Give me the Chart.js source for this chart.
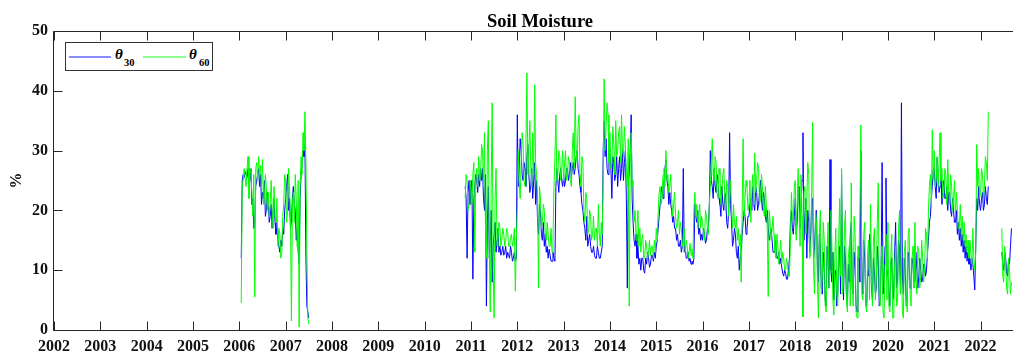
<!DOCTYPE html>
<html>
<head>
<meta charset="utf-8">
<script src="https://cdn.jsdelivr.net/npm/chart.js@4"></script>
<style>
html,body{margin:0;padding:0;background:#fff;}
#wrap{position:relative;width:1013px;height:351px;overflow:hidden;}
canvas{display:block;}
#legend{position:absolute;left:65px;top:42px;width:148px;height:29px;border:1px solid #333;background:#fff;box-sizing:border-box;font-family:"Liberation Serif","Times New Roman",serif;font-weight:bold;color:#000;}
#legend .ln{position:absolute;height:2px;top:13px;}
#legend .th{position:absolute;font-style:italic;font-size:15px;line-height:15px;top:4px;}
#legend .sb{position:absolute;font-size:10.5px;line-height:10.5px;top:14.5px;}
</style>
</head>
<body>
<div id="wrap">
<canvas id="c" width="1013" height="351"></canvas>
<div id="legend">
  <div class="ln" style="left:3px;width:42px;background:#8c8cff;"></div>
  <span class="th" style="left:49px;">θ</span><span class="sb" style="left:58px;">30</span>
  <div class="ln" style="left:77px;width:43px;background:#8cff8c;"></div>
  <span class="th" style="left:123px;">θ</span><span class="sb" style="left:133px;">60</span>
</div>
</div>
<script>
// ---- data (~weekly samples) ----
const sampleStep = 1 / 48;
const segmentStarts = [2006 + 2/48, 2010 + 42/48, 2022 + 22/48];

const theta30Seg1 = [
  12,25, 26,25.5, 26.5,26, 25.5,27, 26,25, 27,21, 22,17, 18,24, 25,26, 27,24, 26,21, 23,22,
  25,19, 20,23, 21,18, 19,21, 17,20, 22,18, 16,17, 15,14, 13,15, 14,17, 16,20,                 // 2006
  22,24, 26,20, 22,17, 18,22, 24,21, 20,15, 17,13, 11,22, 26,28, 30,29, 31,12, 4,3, 2           // 2007
];
const theta60Seg1 = [
  4.5,24, 25,27, 25.5,24, 27,29, 22,27, 26,23, 19,26, 5.5,27, 28,25, 29,26, 27.5,24, 28.5,21,
  22,26, 24,20, 23,19, 21,25, 20,17, 24,19, 18,22, 14,17, 16,12, 13,19, 21,26,                 // 2006
  25,18, 20,27, 24,19, 1.5,21, 23,18, 26,22, 14,25, 0.5,24, 29,26, 33,30, 36.5,28, 13,2, 1     // 2007
];

const theta30Seg2 = [
  24,22, 12,23, 25,21,                                                                                                  // 2010
  23,25, 8.5,22, 24,26, 25,23, 26,24, 27,25, 27,22, 20,26, 4,18, 24,12, 15,20, 8,14, 16,18, 13,15, 17,13, 14,12.5, 13,14, 12.5,13, 14,12, 13,12.5, 12,14, 13,11.5, 12,13, 11.5,12,   // 2011
  36,24, 27,32, 30,26, 25,28, 27,24, 29,31, 26,23, 24,27, 22,25, 28,21, 25,18, 16,21, 20,16, 15,18, 14,16, 13,14, 12,13.5, 12.5,11.5, 11.5,13, 12,11.5, 24,27, 25,23, 26,27, 25,24,   // 2012
  26,24, 25,27, 27,25, 26,28, 25.5,27, 28,26, 27,29, 30,27, 26,24, 23,21, 20,18, 17,15, 19,14, 15,16, 14,13, 13,14, 12.5,12, 12,14, 13,12, 12,13, 14,30, 35,29, 32,27, 26,30,      // 2013
  30,27, 22,29, 28,25, 26,29, 24,27, 29,25, 27,30, 25,28, 30,22, 7,25, 26,30, 36,22, 18,15, 14,16, 12,14, 11,12, 10,12, 12,10, 9.5,12, 11,13, 12,10.5, 11,12.5, 12.5,11.5, 13,12,   // 2014
  14,15, 17,19, 21,23, 24,22, 25,27, 28.5,25, 24,21, 23,21, 20,18, 19,17, 17,15, 16,14, 14,15, 13,14, 27,13, 14,12, 12,13, 11.5,12, 11,11.5, 11,12, 21,19, 18,20, 16,17, 15,16,   // 2015
  15,17, 16,14.5, 15,17, 17,21, 30,25, 24,22, 27,24, 23,26, 25,22, 21,19, 24,21, 20,23, 22,18, 17,20, 33,21, 18,14, 15,17, 16,13, 12,14, 10,12, 13,16, 18,20, 19,16, 17,19,     // 2016
  19,21, 22,20, 24,21, 20,24, 23,20, 21,23, 25,22, 20,23, 22,19, 18,20, 17,15, 16,17, 15,13, 13,15, 14,12, 12,13, 11,12, 10.5,9.5, 9,10, 9.5,8.5, 8.5,10, 12,18, 20,17, 16,19,   // 2017
  22,16, 18,23, 24,17, 20,25, 33,15, 19,22, 12,20, 18,13, 16,21, 22,12, 14,18, 20,10, 8,16, 14,7, 6,13, 11,5, 4,14, 12,7, 28.5,10, 8,13, 5,9, 10,4, 6,12, 14,6,                // 2018
  26,10, 5,14, 12,6, 4,11, 8,16, 18,7, 6,13, 10,4, 3,12, 14,8, 30,10, 6,15, 12,5, 4,10, 9,16, 14,7, 5,12, 10,6, 7,14, 12,4, 5,11, 28,6, 8,14, 25.4,9,                          // 2019
  10,6, 4,11, 12,5, 6,13, 18,7, 8,15, 14,6, 38,9, 6,12, 10,4, 5,13, 12,7, 7,12, 11,8, 8,13, 10,7, 9,12, 10,8, 8.5,11, 11,9, 10,13, 15,18, 19,22, 24,27,                        // 2020
  27,24, 22,28.8, 26,23, 24,26, 21,24, 25,22, 22,24, 20,23, 23,20, 19,22, 20,18, 18,20, 16,18, 15,17, 14,16, 13,15, 12,14, 11.5,13, 11,12, 10,12, 11,9, 6.7,14, 22,20, 24,21,   // 2021
  20,22, 23,20, 21,24, 22,21, 24                                                                                        // 2022
];
const theta60Seg2 = [
  22,26, 25,20, 21,25,                                                                                                  // 2010
  24,21, 26,28, 13,25, 27,24, 29,25, 26,31, 30,24, 33,18, 12,30, 35,14, 3,25, 38,10, 2,22, 27,14, 15,18, 17,14, 15,17, 16,14, 15,17, 16.5,14, 14,15.5, 16,14, 15,17, 6.5,15,      // 2011
  20,30, 25,22, 28,33, 31,25, 24,32, 43,26, 30,35, 27,24, 33,26, 41,28, 26,22, 7,24, 22,17, 18,21, 20,16, 15,18, 16,14, 14,17, 13,15, 24,29, 36,25, 26,30, 29,25, 27,30,        // 2012
  25,28, 30,25, 26,29, 28,25, 24,30, 33,27, 39,30, 28,34, 36,26, 24,29, 28,20, 18,23, 22,16, 17,20, 19,15, 16,19, 15,17, 17,14, 21,16, 14,18, 16,25, 42,30, 34,38, 36,28,        // 2013
  33,27, 28,34, 31,26, 35,29, 30,33, 34,28, 36,30, 29,34, 31,26, 24,32, 4,28, 33,24, 25,18, 20,15, 17,20, 14,17, 13,15, 16,12, 12,15, 14,12, 13,15, 12.5,14, 14,12, 15,13,       // 2014
  17,15, 20,23, 24,21, 22,26, 27,24, 30,25, 26,23, 24,26, 22,19, 21,23, 19,17, 18,20, 16,18, 17,14, 15,17, 13,15, 14,12, 13,14.5, 12.5,13.5, 12,20, 23,19, 21,17, 19,21, 17,19, // 2015
  18,16, 15,20, 19,17, 16,21, 24,28, 32,26, 25,29, 28,23, 22,27, 26,21, 23,26, 27,22, 20,25, 24,19, 22,25, 20,17, 21,18, 17,19, 15,17, 14,16, 8,20, 32,19, 22,25, 24,20,        // 2016
  21,25, 18,23, 26,21, 29.6,23, 25,28, 27,21, 22,26, 24,20, 19,24, 21,17, 5.6,20, 18,15, 17,19, 16,13, 12,16, 14,11, 13,15, 11,13, 12,10, 10,12, 11,9, 9,15, 23,19, 18,24,      // 2017
  25,15, 21,27, 20,14, 26,19, 2.2,23, 24,16, 22,28, 26,12, 13,23, 34.7,10, 6,20, 18,8, 2,16, 20,6, 9,18, 15,4, 3,13, 18,7, 10,20, 14,5, 2.5,12, 17,6, 4,15, 22,9,               // 2018
  27,6, 8,17, 20,5, 3,12, 14,4, 24.6,9, 4,19, 16,3, 2,14, 12,20, 34.3,6, 5,16, 18,4, 3,13, 15,5, 21,8, 4,15, 17,5, 8,18, 24.6,6, 4,12, 14,3, 2,11, 16,5,                       // 2019
  18,4, 3,12, 16,2, 2,11, 14,4, 5,17, 20,6, 12,3, 2,13, 15,5, 3,16, 17,6, 4,12, 14,7, 18,9, 6,14, 13,7, 9,15, 12,8, 10,17, 16,12, 20,24, 26,21, 33.5,25,                       // 2020
  30,24, 25,29, 24,28, 33,25, 27,22, 23,27, 26,21, 28.5,23, 21,26, 24,20, 22,25, 19,23, 20,17, 17,21, 16,19, 15,18, 14,16, 13,15, 12,15, 12.5,11, 17,12, 10,13, 31,24, 27,22,   // 2021
  23,27, 26,22, 24,29, 28,25, 36.5                                                                                      // 2022
];

const theta30Seg3 = [13,11, 10,13, 12,9.5, 9,12, 11,14, 17];   // 2022 (late)
const theta60Seg3 = [17,9, 8,14, 11,7, 6,12, 10,6, 8];

const yearTicks = [2002,2003,2004,2005,2006,2007,2008,2009,2010,2011,2012,2013,2014,2015,2016,2017,2018,2019,2020,2021,2022];
const yTicks = [0,10,20,30,40,50];
const xMin = 2002, xMax = 2022.7, yMin = 0, yMax = 50;

// ---- build ----
function buildPoints(starts, segs) {
  const pts = [];
  segs.forEach((vals, k) => {
    if (k > 0) pts.push({x: starts[k] - sampleStep / 2, y: null});
    vals.forEach((v, i) => pts.push({x: starts[k] + i * sampleStep, y: v}));
  });
  return pts;
}
const pts30 = buildPoints(segmentStarts, [theta30Seg1, theta30Seg2, theta30Seg3]);
const pts60 = buildPoints(segmentStarts, [theta60Seg1, theta60Seg2, theta60Seg3]);

const FONT = '"Liberation Serif", "Times New Roman", serif';

const framePlugin = {
  id: 'frameTicks',
  afterDatasetsDraw(chart) {
    const {ctx, chartArea: a, scales: {x, y}} = chart;
    ctx.save();
    ctx.strokeStyle = '#262626';
    ctx.lineWidth = 1;
    const L = Math.floor(a.left) - 0.5, B = Math.round(a.bottom) + 0.5, T = Math.round(a.top) + 0.5;
    const len = 9;
    ctx.beginPath();
    ctx.moveTo(L, T); ctx.lineTo(L, B); ctx.lineTo(a.right + 1, B);
    ctx.moveTo(L, T); ctx.lineTo(a.right + 1, T);
    yearTicks.forEach(v => {
      const px = Math.round(x.getPixelForValue(v)) + 0.5;
      ctx.moveTo(px, B); ctx.lineTo(px, B - len);
      ctx.moveTo(px, T); ctx.lineTo(px, T + len);
    });
    yTicks.forEach(v => {
      const py = Math.round(y.getPixelForValue(v)) + 0.5;
      ctx.moveTo(L, py); ctx.lineTo(L + len, py);
    });
    ctx.stroke();
    // title, centred on the full (cropped) axes
    const cx = (a.left + x.getPixelForValue(2022.98)) / 2;
    ctx.fillStyle = '#000';
    ctx.font = 'bold 18.5px ' + FONT;
    ctx.textAlign = 'center';
    ctx.textBaseline = 'alphabetic';
    ctx.fillText('Soil Moisture', cx, 27);
    ctx.restore();
  }
};

new Chart(document.getElementById('c'), {
  type: 'line',
  data: {
    datasets: [
      {label: 'θ30', data: pts30, borderColor: '#0000ff', borderWidth: 1, pointRadius: 0, tension: 0, spanGaps: false, order: 1},
      {label: 'θ60', data: pts60, borderColor: '#00ff00', borderWidth: 1, pointRadius: 0, tension: 0, spanGaps: false, order: 0}
    ]
  },
  options: {
    responsive: false,
    animation: false,
    events: [],
    layout: {padding: {top: 31, left: 0, right: 0, bottom: 0}},
    plugins: {legend: {display: false}, tooltip: {enabled: false}, title: {display: false}},
    scales: {
      x: {
        type: 'linear', min: xMin, max: xMax,
        grid: {display: false, drawTicks: false},
        border: {display: false},
        afterBuildTicks: s => { s.ticks = yearTicks.map(v => ({value: v})); },
        afterFit: s => { s.height = 21; },
        ticks: {
          autoSkip: false, maxRotation: 0, includeBounds: false, padding: 7,
          color: '#111', font: {family: FONT, size: 16, weight: 'bold'},
          callback: v => String(v)
        }
      },
      y: {
        min: yMin, max: yMax,
        grid: {display: false, drawTicks: false},
        border: {display: false},
        afterBuildTicks: s => { s.ticks = yTicks.map(v => ({value: v})); },
        afterFit: s => { s.width = 54; },
        ticks: {padding: 6, color: '#111', font: {family: FONT, size: 16, weight: 'bold'}, callback: v => String(v)},
        title: {display: true, text: '%', color: '#111', padding: {top: 7, bottom: 0}, font: {family: FONT, size: 16, weight: 'bold'}}
      }
    }
  },
  plugins: [framePlugin]
});
</script>
</body>
</html>
